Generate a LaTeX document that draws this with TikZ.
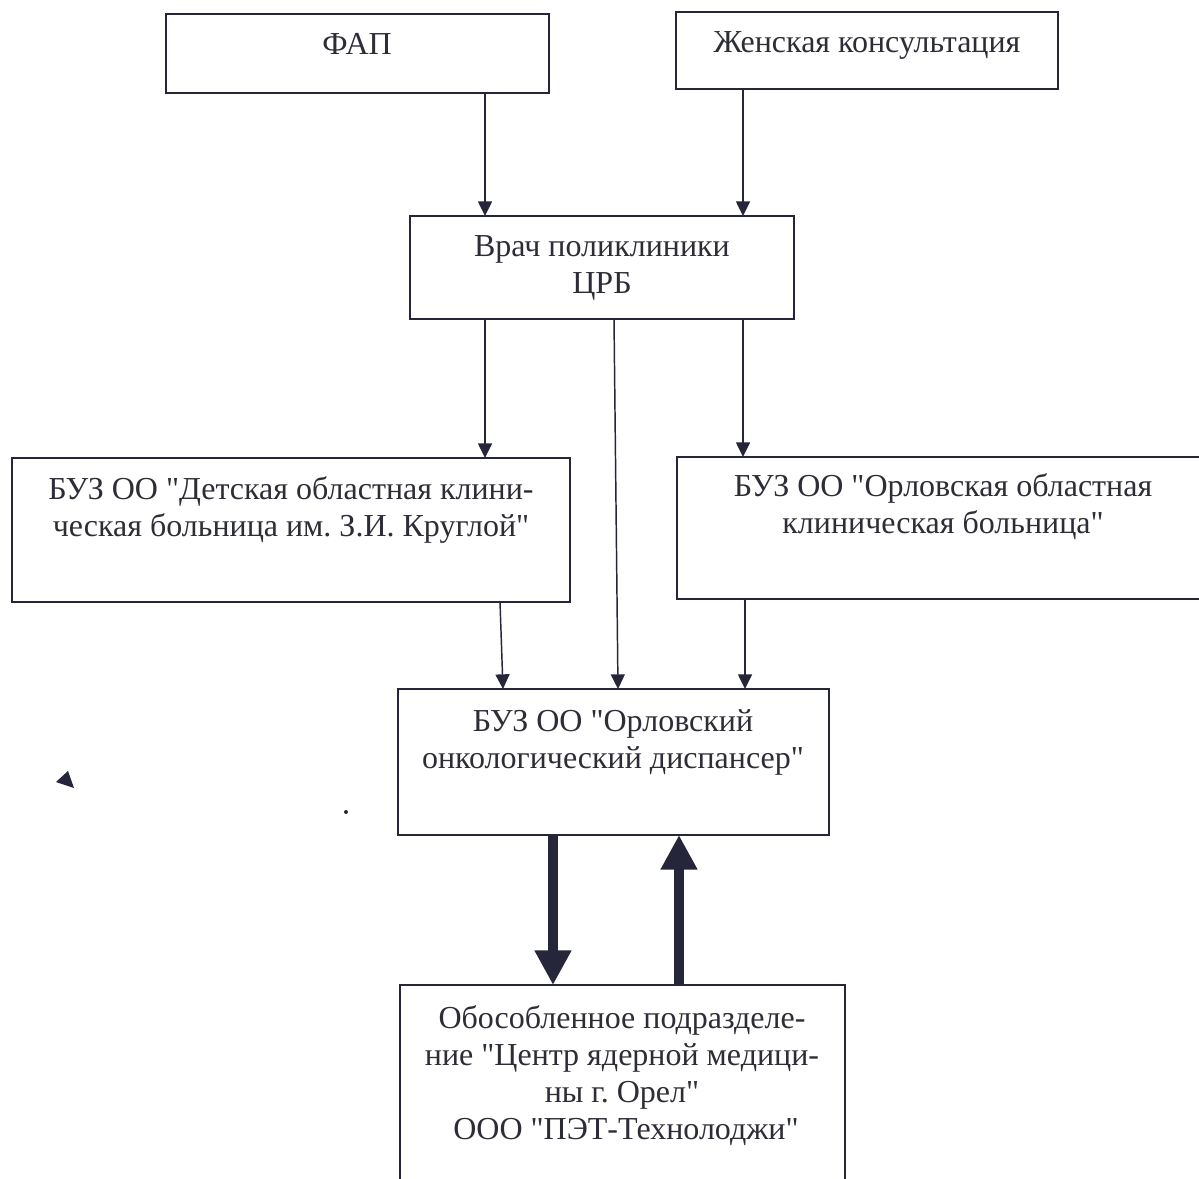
\documentclass[tikz,border=0pt]{standalone}
\usepackage{fontspec}
\setmainfont{Liberation Serif}[Ligatures=TeXOff]
\usetikzlibrary{arrows.meta,fit}
\definecolor{ink}{RGB}{38,38,58}
\definecolor{txtc}{RGB}{45,45,55}
\frenchspacing
\begin{document}
\begin{tikzpicture}[x=0.75pt,y=-0.75pt,
  box/.style={draw=ink,line width=1.3pt,inner sep=0pt,outer sep=0pt,fill=none},
  txt/.style={text=txtc,font=\fontsize{24}{27.6}\selectfont\frenchspacing,align=center,inner sep=0pt,anchor=base},
  arr/.style={draw=ink,line width=1.1pt,-{Triangle[length=11pt,width=10.5pt]}},
  bigarr/.style={draw=ink,line width=7.5pt,-{Triangle[length=26pt,width=26pt]}}]
\useasboundingbox[clip] (0,0) rectangle (1199,1178);
\fill[white] (0,0) rectangle (1199,1178);
% boxes
\node[box,fit={(166,14) (549,93)}] (fap) {};
\node[box,fit={(676,12) (1058,89)}] (zk) {};
\node[box,fit={(410,216) (794,319)}] (vrach) {};
\node[box,fit={(12,458) (570,602)}] (dokb) {};
\node[box,fit={(677,457) (1212,599)}] (ookb) {};
\node[box,fit={(398,689) (829,835)}] (onko) {};
\node[box,fit={(400,985) (845,1190)}] (pet) {};
% texts (anchored at the baseline of the last line)
\node[txt] (fapt) at (357,54) {ФАП};
\node[txt] (zkt) at (867,52) {Женская консультация};
\node[txt] (vracht) at (602,293) {Врач поликлиники\\ЦРБ};
\node[txt] (dokbt) at (291,536) {БУЗ ОО "Детская областная клини-\\ческая больница им. З.И. Круглой"};
\node[txt] (ookbt) at (943,533) {БУЗ ОО "Орловская областная\\клиническая больница"};
\node[txt] (onkot) at (613,768) {БУЗ ОО "Орловский\\онкологический диспансер"};
\node[txt] (pett) at (622,1139) {Обособленное подразделе-\\ние "Центр ядерной медици-\\ны г. Орел"\\\ ООО "ПЭТ-Технолоджи"};
% connectors
\draw[arr] ([xshift=-48pt]fap.south east) -- ([xshift=56.25pt]vrach.north west);
\draw[arr] ([xshift=50.25pt]zk.south west) -- ([xshift=-38.25pt]vrach.north east);
\draw[arr] ([xshift=56.25pt]vrach.south west) -- ([xshift=-63.75pt]dokb.north east);
\draw[arr] ([xshift=153pt]vrach.south west) -- ([xshift=165pt]onko.north west);
\draw[arr] ([xshift=-38.25pt]vrach.south east) -- ([xshift=49.5pt]ookb.north west);
\draw[arr] ([xshift=-52.5pt]dokb.south east) -- ([xshift=78.75pt]onko.north west);
\draw[arr] ([xshift=51pt]ookb.south west) -- ([xshift=-63pt]onko.north east);
\draw[bigarr] ([xshift=116.25pt]onko.south west) -- ([xshift=114.75pt]pet.north west);
\draw[bigarr] ([xshift=209.25pt]pet.north west) -- ([xshift=210.75pt]onko.south west);
% scan marks
\fill[ink] (56,782) -- (68,771) -- (74,788) -- cycle;
\fill[ink] (346,812) circle (2);
\end{tikzpicture}
\end{document}
